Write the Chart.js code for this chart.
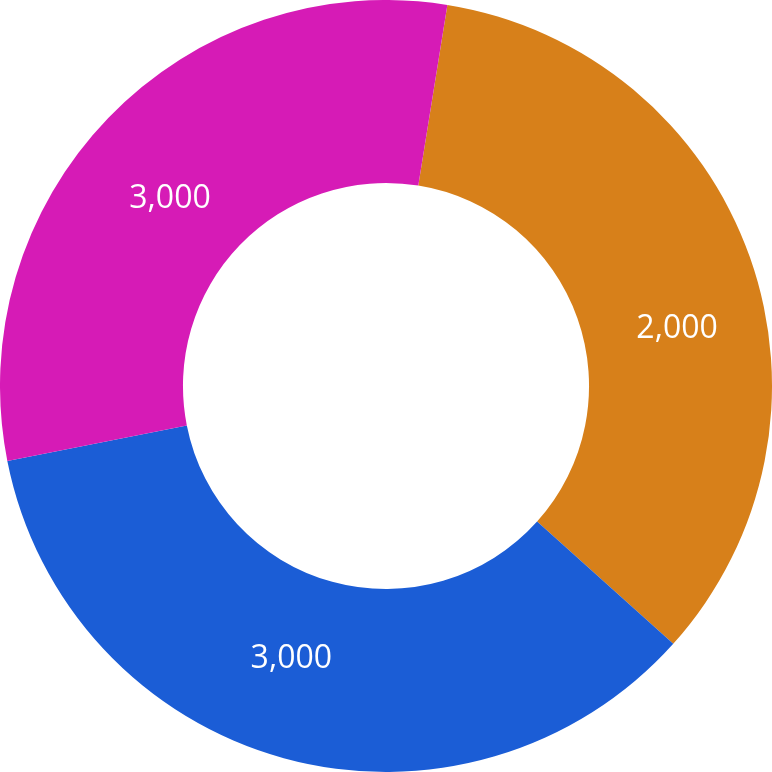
<!DOCTYPE html>
<html>
<head>
<meta charset="utf-8">
<script src="https://cdn.jsdelivr.net/npm/chart.js@4/dist/chart.umd.min.js"></script>
<style>
  html, body { margin: 0; padding: 0; background: #fff; }
  #wrap { width: 772px; height: 772px; }
</style>
</head>
<body>
<div id="wrap"><canvas id="donut_chart" width="772" height="772"></canvas></div>
<script>
// slice sizes (share of the ring, in percent)
var categories = ['A', 'B', 'C'];
var shares = [34.1, 35.25, 30.65];
// the text printed on each slice
var valueLabels = ['2,000', '3,000', '3,000'];
var sliceColors = ['#D7801A', '#1B5DD6', '#D61BB6'];

// label placement: angle nudge (deg) and radius from centre
var labelNudge = [8.0, 3.9, -2.8];
var labelRadius = [297, 287, 287];

var sliceLabels = {
  id: 'sliceLabels',
  afterDatasetsDraw: function (chart) {
    var ctx = chart.ctx;
    var meta = chart.getDatasetMeta(0);
    var size = 32;
    ctx.save();
    ctx.fillStyle = '#ffffff';
    ctx.font = size + 'px "Open Sans", "Noto Sans", sans-serif';
    ctx.textAlign = 'center';
    ctx.textBaseline = 'alphabetic';
    meta.data.forEach(function (arc, i) {
      var p = arc.getProps(['x', 'y', 'startAngle', 'endAngle'], true);
      var mid = (p.startAngle + p.endAngle) / 2 + labelNudge[i] * Math.PI / 180;
      var lx = p.x + Math.cos(mid) * labelRadius[i];
      var ly = p.y + Math.sin(mid) * labelRadius[i];
      ctx.fillText(valueLabels[i], lx, ly + size * 0.357);
    });
    ctx.restore();
  }
};

var donut_ctx = document.getElementById('donut_chart').getContext('2d');
var donut_chart = new Chart(donut_ctx, {
  type: 'doughnut',
  data: {
    labels: categories,
    datasets: [{
      data: shares,
      backgroundColor: sliceColors,
      borderWidth: 0,
      hoverOffset: 0
    }]
  },
  options: {
    responsive: false,
    animation: false,
    rotation: 9.15,
    cutout: '52.6%',
    layout: { padding: 0 },
    plugins: {
      legend: { display: false },
      tooltip: { enabled: false }
    }
  },
  plugins: [sliceLabels]
});
</script>
</body>
</html>
